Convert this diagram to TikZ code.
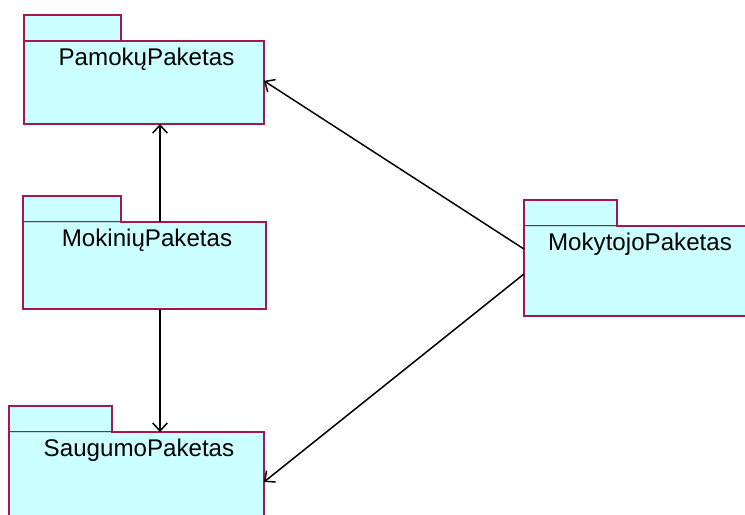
\documentclass[tikz,border=0pt]{standalone}
\usepackage{fontspec}
\setmainfont{Liberation Sans}
\usetikzlibrary{arrows.meta,calc}
\definecolor{pkgfill}{HTML}{CCFFFF}
\definecolor{pkgline}{HTML}{A3184F}
\definecolor{pkgsep}{HTML}{B8D8E0}
\begin{document}
\begin{tikzpicture}[x=0.75pt,y=-0.75pt,
  pkgbody/.style={draw=pkgline,fill=pkgfill,line width=0.95pt,inner sep=0pt,outer sep=0pt,anchor=north west},
  pkgtab/.style={draw=pkgline,fill=pkgfill,line width=0.95pt},
  pkgname/.style={anchor=base,inner sep=0pt,font=\fontsize{18.1}{21}\selectfont},
  dep/.style={draw=black,line width=1.1pt,-{Straight Barb[length=6pt,width=11pt,line width=1.1pt]}}]
\clip (0,0) rectangle (745,514);

% PamokuPaketas
\draw[pkgtab] (24,15) rectangle (121,41);
\node[pkgbody,minimum width=240*0.75pt,minimum height=83*0.75pt] (pam) at (24,41) {};
\node[pkgname] (pamT) at (146.5,65) {PamokųPaketas};

% MokiniuPaketas
\draw[pkgtab] (23,196) rectangle (121,222);
\node[pkgbody,minimum width=243*0.75pt,minimum height=87*0.75pt] (mok) at (23,222) {};
\draw[pkgsep,line width=0.6pt] (23.6,222) -- (120.4,222);
\node[pkgname] (mokT) at (147,246.5) {MokiniųPaketas};

% SaugumoPaketas
\draw[pkgtab] (9,406) rectangle (112,432);
\node[pkgbody,minimum width=255*0.75pt,minimum height=95*0.75pt] (sau) at (9,432) {};
\draw[pkgsep,line width=0.6pt] (9.6,432) -- (111.4,432);
\node[pkgname] (sauT) at (139,456.5) {SaugumoPaketas};

% MokytojoPaketas
\draw[pkgtab] (524,200) rectangle (617,226);
\node[pkgbody,minimum width=230*0.75pt,minimum height=90*0.75pt] (mkt) at (524,226) {};
\draw[pkgsep,line width=0.6pt] (524.6,226) -- (616.4,226);
\node[pkgname] (mktT) at (640,250.5) {MokytojoPaketas};

% dependencies
\draw[dep] ([xshift=15.5*0.75pt]mok.north) -- ([xshift=16*0.75pt]pam.south);
\draw[dep] ([xshift=15.5*0.75pt]mok.south) -- ([xshift=23.5*0.75pt]sau.north);
\draw[dep] ($(mkt.north west)!0.256!(mkt.south west)$) -- ($(pam.north east)!0.48!(pam.south east)$);
\draw[dep] ($(mkt.north west)!0.533!(mkt.south west)$) -- ($(sau.north east)!0.526!(sau.south east)$);
\end{tikzpicture}
\end{document}
